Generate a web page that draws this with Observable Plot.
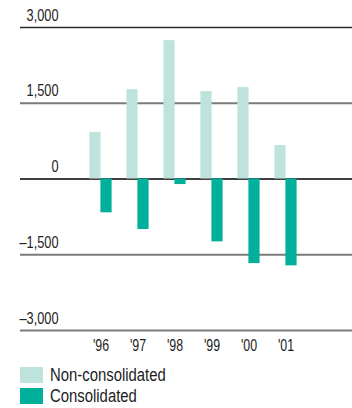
<!DOCTYPE html>
<html>
<head>
<meta charset="utf-8">
<script src="https://cdn.jsdelivr.net/npm/d3@7"></script>
<script src="https://cdn.jsdelivr.net/npm/@observablehq/plot@0.6"></script>
<style>
  html, body { margin: 0; padding: 0; background: #fff; }
  body { width: 352px; height: 408px; overflow: hidden; font-family: "Liberation Sans", Arial, sans-serif; }
  #legend { position: relative; height: 48px; }
  .item { position: absolute; left: 20px; display: flex; align-items: center; }
  .sw { width: 23px; height: 16px; margin-right: 7px; flex: none; }
  .lab { font-size: 17.5px; color: #222; line-height: 16px; display: inline-block; transform: scaleX(0.85); transform-origin: left center; white-space: nowrap; }
</style>
</head>
<body>
<div id="chart"></div>
<div id="legend">
  <div class="item" style="top:7px"><div class="sw" style="background:#BEE3DC"></div><span class="lab">Non-consolidated</span></div>
  <div class="item" style="top:28px"><div class="sw" style="background:#00B09B"></div><span class="lab">Consolidated</span></div>
</div>
<script>
const years = ["1996", "1997", "1998", "1999", "2000", "2001"];
const nonConsolidated = [920, 1770, 2740, 1730, 1810, 660];
const consolidated = [-670, -1000, -110, -1245, -1675, -1720];
const yTicks = [3000, 1500, 0, -1500, -3000];

const nonData = years.map((y, i) => ({year: y, value: nonConsolidated[i]}));
const conData = years.map((y, i) => ({year: y, value: consolidated[i]}));

const fmt = d3.format(",");
const yLabel = d => d < 0 ? "\u2013" + fmt(-d) : fmt(d);
const font = "'Liberation Sans', Arial, sans-serif";

const chart = Plot.plot({
  width: 352,
  height: 360,
  marginLeft: 20,
  marginRight: 0,
  marginTop: 0,
  marginBottom: 0,
  style: {fontFamily: font, background: "#fff"},
  x: {type: "band", domain: years, range: [79.6, 306.4], padding: 0, axis: null},
  y: {domain: [-3000, 3000], range: [330, 27], axis: null},
  marks: [
    Plot.ruleY(yTicks.filter(d => d !== 0 && d !== 3000), {y: d => d, stroke: "#7a7a7a", strokeWidth: 2}),
    Plot.ruleY(yTicks.filter(d => d === 3000), {y: d => d, stroke: "#2a2a2a", strokeWidth: 1.6}),
    Plot.ruleY(yTicks.filter(d => d === 0), {y: d => d, stroke: "#000", strokeWidth: 1.5}),
    Plot.barY(nonData, {x: "year", y: "value", fill: "#BEE3DC", insetLeft: 7.4, insetRight: 18.4}),
    Plot.barY(conData, {x: "year", y: "value", fill: "#00B09B", insetLeft: 18.4, insetRight: 7.4}),
    Plot.text(yTicks, {y: d => d, text: yLabel, frameAnchor: "left", dx: 38, dy: -7, textAnchor: "end", lineAnchor: "bottom", fontSize: 17, fill: "#222"}),
    Plot.text(years, {x: d => d, y: () => -3000, text: d => "'" + d.slice(2), dy: 20, lineAnchor: "bottom", fontSize: 16.5, fill: "#222"})
  ]
});
document.getElementById("chart").appendChild(chart);
// condense the text horizontally (narrow typeface look)
chart.querySelectorAll("text").forEach(el => {
  const w = el.getComputedTextLength();
  if (w > 0) {
    el.setAttribute("textLength", (w * 0.75).toFixed(2));
    el.setAttribute("lengthAdjust", "spacingAndGlyphs");
  }
});
</script>
</body>
</html>
